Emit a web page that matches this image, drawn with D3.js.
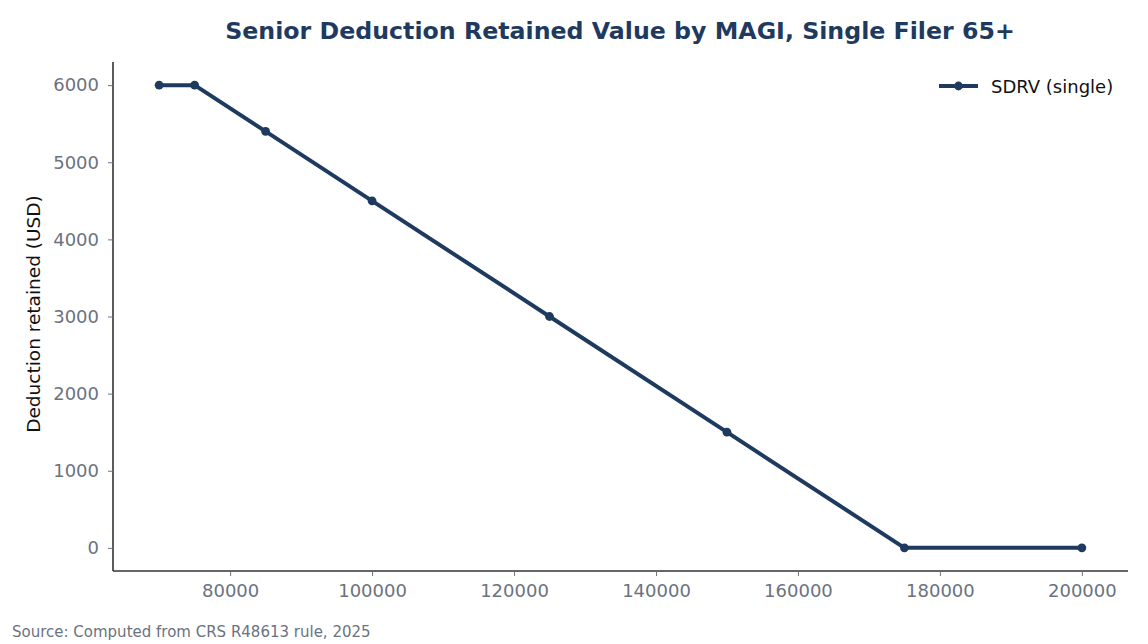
<!DOCTYPE html>
<html>
<head>
<meta charset="utf-8">
<script src="https://cdn.jsdelivr.net/npm/d3@7"></script>
<style>
  body { margin: 0; background: #fff; }
  text { font-family: "DejaVu Sans", sans-serif; }
</style>
</head>
<body>
<svg id="chart" width="1148" height="644"></svg>
<script>
// data
const magi = [70000, 75000, 85000, 100000, 125000, 150000, 175000, 200000];
const retained = [6000, 6000, 5400, 4500, 3000, 1500, 0, 0];
const xTicks = [80000, 100000, 120000, 140000, 160000, 180000, 200000];
const yTicks = [0, 1000, 2000, 3000, 4000, 5000, 6000];

const navy = "#1f3a5f";
const svg = d3.select("#chart");

const plotL = 113, plotR = 1128, plotT = 62, plotB = 571;

const x = d3.scaleLinear().domain([63500, 206500]).range([plotL, plotR]);
const y = d3.scaleLinear().domain([-300, 6300]).range([plotB, plotT]);

// title
svg.append("text")
  .attr("x", 620).attr("y", 39)
  .attr("text-anchor", "middle")
  .attr("fill", navy)
  .style("font-size", "23.7px")
  .style("font-weight", "bold")
  .text("Senior Deduction Retained Value by MAGI, Single Filer 65+");

// axes
const xAxis = svg.append("g")
  .attr("transform", `translate(0,${plotB})`)
  .call(d3.axisBottom(x).tickValues(xTicks).tickFormat(d3.format("d")).tickSizeOuter(0).tickSize(5).tickPadding(8));
const yAxis = svg.append("g")
  .attr("transform", `translate(${plotL},0)`)
  .call(d3.axisLeft(y).tickValues(yTicks).tickFormat(d3.format("d")).tickSizeOuter(0).tickSize(5).tickPadding(9));

[xAxis, yAxis].forEach(a => {
  a.select(".domain").attr("stroke", "#333").attr("stroke-width", 1.6);
  a.selectAll(".tick line").attr("stroke", "#6b7280");
  a.selectAll(".tick text")
    .attr("fill", "#6b7280")
    .style("font-size", "18px")
    .style("font-family", "DejaVu Sans, sans-serif");
});
xAxis.select(".domain").attr("d", `M${plotL},0H${plotR}`);
yAxis.select(".domain").attr("d", `M0,${plotB}V${plotT}`);

// y label
svg.append("text")
  .attr("transform", "translate(40,314) rotate(-90)")
  .attr("text-anchor", "middle")
  .attr("fill", "#111")
  .style("font-size", "18.5px")
  .text("Deduction retained (USD)");

// line
const pts = magi.map((m, i) => ({ m, v: retained[i] }));
svg.append("path")
  .datum(pts)
  .attr("fill", "none")
  .attr("stroke", navy)
  .attr("stroke-width", 4)
  .attr("stroke-linejoin", "round")
  .attr("d", d3.line().x(d => x(d.m)).y(d => y(d.v)));

svg.selectAll(".pt")
  .data(pts)
  .enter()
  .append("circle")
  .attr("cx", d => x(d.m))
  .attr("cy", d => y(d.v))
  .attr("r", 4.4)
  .attr("fill", navy);

// legend
const lg = svg.append("g").attr("transform", "translate(939,86)");
lg.append("line").attr("x1", 0).attr("x2", 39).attr("stroke", navy).attr("stroke-width", 4);
lg.append("circle").attr("cx", 19.5).attr("r", 4.4).attr("fill", navy);
lg.append("text")
  .attr("x", 52).attr("y", 6.5)
  .attr("fill", "#111")
  .style("font-size", "18px")
  .text("SDRV (single)");

// source
svg.append("text")
  .attr("x", 12).attr("y", 637)
  .attr("fill", "#6b7280")
  .style("font-size", "15px")
  .text("Source: Computed from CRS R48613 rule, 2025");
</script>
</body>
</html>
